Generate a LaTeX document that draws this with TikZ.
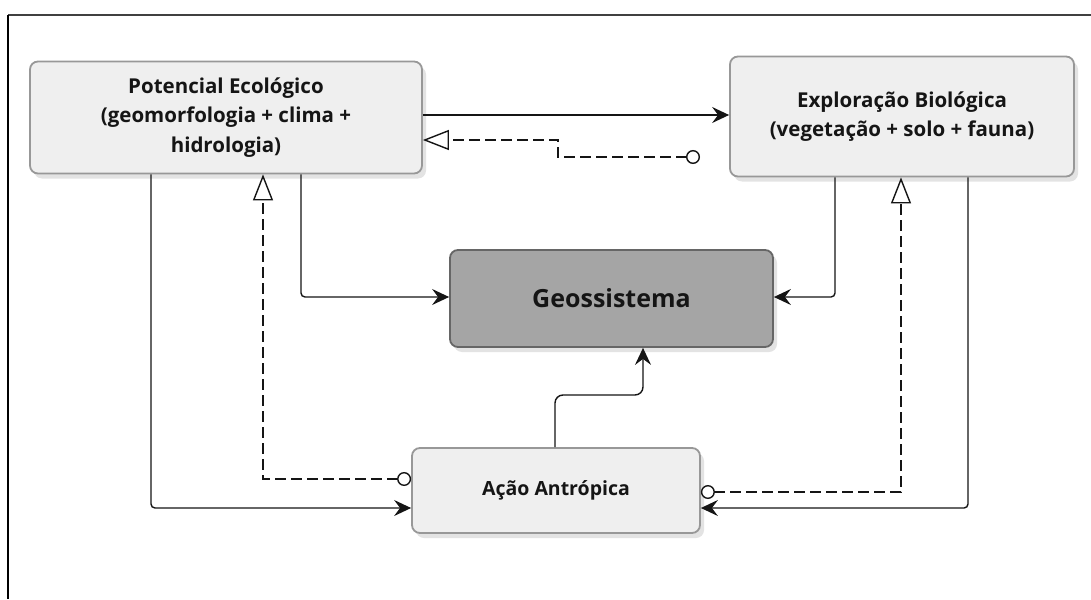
\documentclass[tikz,border=0pt]{standalone}
\usepackage{fontspec}
\setmainfont{Open Sans}
\usetikzlibrary{arrows.meta,shadows}

\definecolor{boxfill}{HTML}{EFEFEF}
\definecolor{boxline}{HTML}{989898}
\definecolor{corefill}{HTML}{A5A5A5}
\definecolor{coreline}{HTML}{666666}
\definecolor{ink}{HTML}{151515}

\tikzset{
  block/.style={draw=boxline, line width=1.8pt, fill=boxfill, rounded corners=8pt,
    align=center, text=ink, font=\bfseries\fontsize{20.5}{29.5}\selectfont,
    inner sep=0pt, drop shadow={opacity=0.22, shadow xshift=4pt, shadow yshift=-5pt}},
  coreblock/.style={block, draw=coreline, fill=corefill, font=\bfseries\fontsize{25}{30}\selectfont},
  flow/.style={line width=1.4pt, draw=ink, rounded corners=4pt,
    -{Stealth[length=17pt, width=16pt, inset=6pt]}},
  feedback/.style={line width=1.4pt, draw=ink, dash pattern=on 11pt off 5pt,
    {Circle[open, length=14pt, width=14pt, fill=white]}-{Triangle[open, length=26pt, width=20pt, fill=white]}},
}

\begin{document}
\begin{tikzpicture}[x=1pt, y=-1pt]
  \useasboundingbox (0,0) rectangle (1091,599);
  \fill[white] (0,0) rectangle (1091,599);

  % outer frame: top rule and left rule
  \draw[line width=2.6pt, draw=black!75] (8,15) -- (1091,15);
  \draw[line width=1.4pt, draw=black] (8,15) -- (8,599);

  % blocks
  \node[block, minimum width=392pt, minimum height=112pt] (pot) at (226,117.5)
    {Potencial Ecológico\\(geomorfologia + clima +\\hidrologia)};
  \node[block, minimum width=344pt, minimum height=120pt] (exp) at (902,116.5)
    {Exploração Biológica\\(vegetação + solo + fauna)};
  \node[coreblock, minimum width=323pt, minimum height=97pt] (geo) at (611.5,298.5)
    {Geossistema};
  \node[block, minimum width=288pt, minimum height=85pt, font=\bfseries\fontsize{19.5}{29.5}\selectfont] (acao) at (556,490.5)
    {Ação Antrópica};

  % helper coordinates for connector routing
  \coordinate (row1) at (0,115);
  \coordinate (fbA) at (700,157);
  \coordinate (fbB) at (558,140);
  \coordinate (potL) at (151,0);
  \coordinate (potR) at (301,0);
  \coordinate (potD) at (263,0);
  \coordinate (expL) at (835,0);
  \coordinate (expR) at (968,0);
  \coordinate (expD) at (901,0);
  \coordinate (low1) at (0,479);
  \coordinate (low2) at (0,492);
  \coordinate (low3) at (0,508);
  \coordinate (mid) at (0,297);
  \coordinate (acUp) at (555,395);
  \coordinate (geoIn) at (643,0);

  % solid flows
  \draw[flow] (pot.east |- row1) -- (exp.west |- row1);
  \draw[flow] (pot.south -| potR) -- (potR |- mid) -- (geo.west |- mid);
  \draw[flow] (exp.south -| expL) -- (expL |- mid) -- (geo.east |- mid);
  \draw[flow] (pot.south -| potL) -- (potL |- low3) -- (acao.west |- low3);
  \draw[flow] (exp.south -| expR) -- (expR |- low3) -- (acao.east |- low3);
  \draw[flow, rounded corners=8pt] (acao.north -| acUp) -- (acUp) -- (acUp -| geoIn) -- (geo.south -| geoIn);

  % dashed feedback links
  \draw[feedback] (fbA) -- (fbA -| fbB) -- (fbB) -- (pot.east |- fbB);
  \draw[feedback] (acao.west |- low1) -- (potD |- low1) -- (pot.south -| potD);
  \draw[feedback] (acao.east |- low2) -- (expD |- low2) -- (exp.south -| expD);
\end{tikzpicture}
\end{document}
